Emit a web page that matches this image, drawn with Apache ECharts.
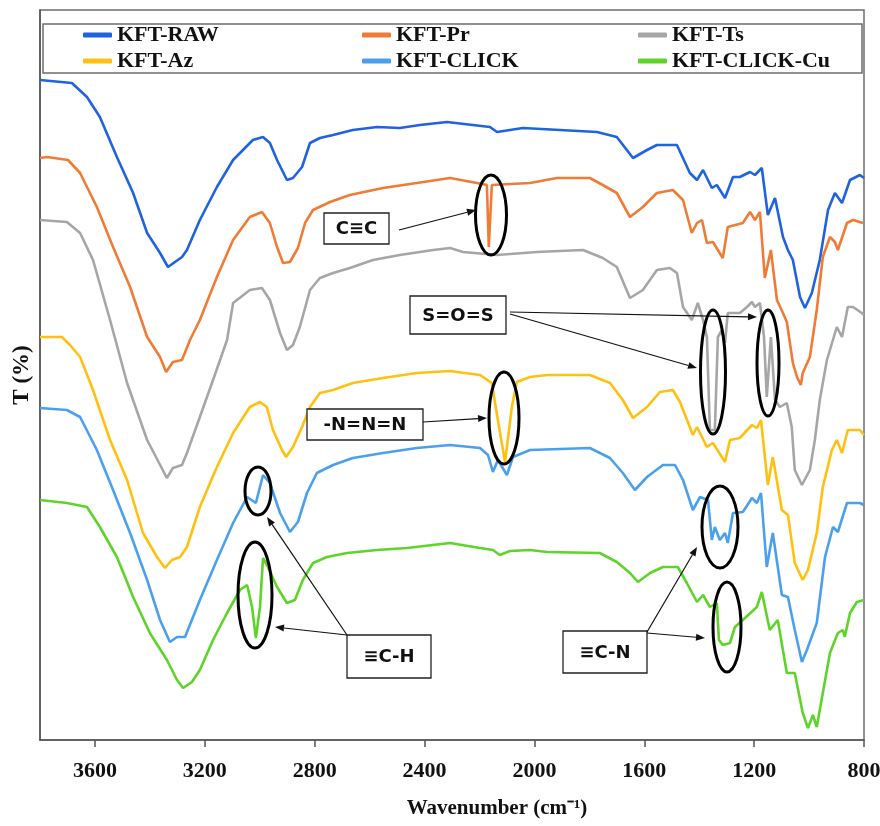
<!DOCTYPE html>
<html>
<head>
<meta charset="utf-8">
<script src="https://cdn.jsdelivr.net/npm/echarts@6/dist/echarts.min.js"></script>
<style>html,body{margin:0;padding:0;background:#fff}#c{width:880px;height:826px}</style>
</head>
<body>
<div id="c"></div>
<script>
// Series names and tick values
const seriesNames = ['KFT-RAW', 'KFT-Pr', 'KFT-Ts', 'KFT-Az', 'KFT-CLICK', 'KFT-CLICK-Cu'];
const xTicks = [800, 1200, 1600, 2000, 2400, 2800, 3200, 3600];

// Spectra: [wavenumber (cm-1), offset transmittance (arbitrary units)]
const rawData = [[3800,660],[3684,657],[3629,643],[3582,623],[3520,583],[3461,547],[3410,507],[3363,487],[3334,473],[3283,483],[3265,490],[3218,520],[3156,553],[3097,580],[3025,600],[2988,603],[2963,597],[2937,580],[2901,560],[2879,562],[2846,573],[2817,597],[2781,602],[2733,605],[2661,610],[2573,613],[2490,612],[2417,615],[2318,618],[2162,613],[2136,608],[2042,612],[1772,608],[1700,603],[1641,582],[1590,590],[1554,595],[1481,595],[1434,567],[1408,560],[1386,570],[1354,552],[1336,555],[1306,542],[1277,563],[1252,563],[1215,568],[1197,565],[1172,572],[1150,525],[1124,542],[1095,503],[1077,490],[1059,480],[1033,443],[1015,432],[990,447],[961,480],[931,530],[906,547],[880,537],[851,560],[815,565],[800,562]];

const prData = [[3800,582],[3775,583],[3698,580],[3654,567],[3593,533],[3534,493],[3472,453],[3410,403],[3363,383],[3341,368],[3316,378],[3283,380],[3254,400],[3218,420],[3156,463],[3097,500],[3036,523],[2992,528],[2963,517],[2937,493],[2915,477],[2890,478],[2861,492],[2835,517],[2806,530],[2744,538],[2672,545],[2551,552],[2428,557],[2307,562],[2209,557],[2173,555],[2166,493],[2155,555],[2016,557],[1918,562],[1798,562],[1751,555],[1700,547],[1652,523],[1605,533],[1554,547],[1496,550],[1459,540],[1427,507],[1408,517],[1390,520],[1372,497],[1350,498],[1314,482],[1296,513],[1241,517],[1215,528],[1197,520],[1179,528],[1161,462],[1139,490],[1117,440],[1095,427],[1081,418],[1059,377],[1044,363],[1030,355],[1023,367],[997,383],[972,430],[950,483],[924,503],[906,498],[895,490],[862,517],[840,520],[804,517]];

const tsData = [[3800,520],[3702,518],[3654,507],[3607,480],[3545,420],[3483,357],[3410,300],[3338,262],[3316,272],[3283,275],[3265,287],[3218,323],[3170,360],[3119,400],[3097,437],[3036,450],[2992,452],[2963,440],[2926,407],[2901,390],[2879,395],[2854,413],[2817,450],[2781,462],[2733,467],[2672,472],[2588,480],[2490,485],[2369,490],[2307,492],[2260,488],[2136,485],[1991,488],[1823,490],[1751,482],[1700,473],[1652,442],[1605,450],[1554,470],[1507,472],[1481,467],[1459,433],[1427,420],[1405,437],[1386,420],[1372,403],[1361,310],[1343,310],[1332,403],[1317,410],[1306,397],[1296,427],[1252,427],[1226,433],[1208,438],[1197,433],[1179,437],[1164,403],[1154,343],[1139,403],[1124,340],[1106,333],[1081,337],[1063,313],[1052,270],[1026,255],[997,270],[979,300],[961,340],[935,380],[899,413],[880,403],[859,433],[840,433],[808,427],[800,425]];

const azData = [[3800,403],[3720,403],[3691,395],[3654,383],[3607,350],[3545,300],[3483,260],[3425,207],[3374,183],[3345,172],[3320,180],[3290,183],[3265,193],[3218,233],[3156,273],[3097,307],[3036,333],[2999,338],[2974,333],[2952,310],[2919,290],[2904,283],[2879,293],[2846,313],[2817,333],[2781,347],[2733,350],[2661,357],[2551,362],[2428,367],[2307,369],[2198,365],[2155,357],[2133,320],[2107,278],[2082,333],[2064,358],[2016,363],[1954,365],[1798,365],[1725,357],[1678,340],[1641,322],[1590,333],[1543,348],[1496,350],[1470,338],[1423,305],[1408,313],[1372,293],[1350,297],[1306,278],[1288,300],[1252,302],[1208,315],[1190,312],[1175,320],[1150,255],[1132,283],[1099,230],[1077,225],[1052,177],[1023,160],[1004,170],[972,207],[950,253],[917,290],[899,300],[880,287],[859,310],[815,310],[800,305]];

const clickData = [[3800,332],[3702,330],[3654,323],[3593,290],[3534,250],[3472,207],[3410,160],[3363,120],[3327,98],[3301,103],[3272,103],[3218,140],[3156,180],[3097,217],[3046,243],[3014,237],[2988,265],[2963,257],[2926,227],[2890,208],[2861,218],[2828,247],[2792,267],[2733,275],[2661,282],[2551,287],[2428,292],[2307,295],[2198,292],[2169,285],[2151,268],[2133,280],[2100,265],[2078,283],[2016,290],[1798,292],[1725,282],[1678,267],[1634,250],[1590,263],[1532,275],[1488,275],[1459,260],[1423,230],[1397,243],[1368,240],[1354,200],[1343,213],[1325,200],[1306,207],[1296,197],[1277,227],[1241,228],[1208,242],[1190,237],[1175,247],[1154,173],[1132,207],[1099,145],[1077,143],[1052,110],[1026,78],[1008,90],[972,117],[942,183],[913,213],[895,208],[862,237],[815,237],[800,235]];

const cuData = [[3800,240],[3702,237],[3629,233],[3582,213],[3520,183],[3461,143],[3400,107],[3338,80],[3301,60],[3279,52],[3247,58],[3218,70],[3170,100],[3119,127],[3072,150],[3046,155],[3028,133],[3014,102],[2999,133],[2988,182],[2970,173],[2937,153],[2901,137],[2872,140],[2843,160],[2806,177],[2755,183],[2682,187],[2573,190],[2464,192],[2307,197],[2198,192],[2151,190],[2126,185],[2089,189],[2016,190],[1954,188],[1762,187],[1700,178],[1652,167],[1623,158],[1579,167],[1532,173],[1478,173],[1445,157],[1408,138],[1386,145],[1361,133],[1336,137],[1328,100],[1314,95],[1288,97],[1270,113],[1241,120],[1190,133],[1172,148],[1143,110],[1114,120],[1081,67],[1052,67],[1023,27],[1004,12],[986,25],[972,13],[950,47],[924,87],[895,107],[877,110],[870,103],[851,127],[826,138],[800,140]];

const seriesData = [rawData, prData, tsData, azData, clickData, cuData];
const colors = ['#1F63E0', '#F07B35', '#A6A6A6', '#FFC010', '#4BA0EE', '#5ED42A'];

const SERIF = '"Liberation Serif", "Times New Roman", serif';
const SANS = '"DejaVu Sans", "Open Sans", sans-serif';

const chart = echarts.init(document.getElementById('c'), null, {renderer: 'canvas'});

const legendPos = [[83, 24], [362, 24], [638, 24], [83, 50], [362, 50], [638, 50]];
const legends = seriesNames.map((n, i) => ({
  data: [n], left: legendPos[i][0], top: legendPos[i][1], padding: 0,
  icon: 'roundRect', itemWidth: 29, itemHeight: 5,
  textStyle: {fontFamily: SERIF, fontWeight: 'bold', fontSize: 22, lineHeight: 22, color: '#111'}
}));

function arrow(x1, y1, x2, y2) {
  const a = Math.atan2(y2 - y1, x2 - x1), L = 9, W = 3.5;
  const bx = x2 - L * Math.cos(a), by = y2 - L * Math.sin(a);
  const px = -Math.sin(a) * W, py = Math.cos(a) * W;
  return [
    {type: 'line', shape: {x1, y1, x2: bx, y2: by}, style: {stroke: '#111', lineWidth: 1.2}, z: 100},
    {type: 'polygon', shape: {points: [[x2, y2], [bx + px, by + py], [bx - px, by - py]]}, style: {fill: '#111'}, z: 100}
  ];
}
function ell(cx, cy, rx, ry) {
  return {type: 'ellipse', shape: {cx, cy, rx, ry}, style: {fill: 'none', stroke: '#000', lineWidth: 3}, z: 100};
}
function box(x, y, w, h, text) {
  return [
    {type: 'rect', shape: {x, y, width: w, height: h}, style: {fill: '#fff', stroke: '#222', lineWidth: 1.3}, z: 100},
    {type: 'text', style: {text, x: x + w / 2, y: y + h / 2 + 1, font: 'bold 18px ' + SANS, textAlign: 'center', textVerticalAlign: 'middle', fill: '#111'}, z: 101}
  ];
}

const graphics = [
  {type: 'rect', shape: {x: 43, y: 24, width: 819, height: 49}, style: {fill: 'none', stroke: '#6e6e6e', lineWidth: 1.5}, z: 90},
  ell(491, 215, 15.5, 40), ell(713, 372, 12.5, 62), ell(768, 363, 11, 53), ell(504, 418, 15, 46),
  ell(720, 527, 18, 41), ell(727, 627, 14, 45), ell(258, 491, 13, 24), ell(255, 595, 17, 53),
  ...box(324, 213, 65, 31, 'C≡C'),
  ...box(410, 296, 96, 38, 'S=O=S'),
  ...box(307, 409, 116, 31, '-N=N=N'),
  ...box(347, 635, 84, 43, '≡C-H'),
  ...box(563, 631, 84, 42, '≡C-N'),
  ...arrow(399, 230, 476, 210),
  ...arrow(510, 312, 757, 317),
  ...arrow(510, 314, 697, 368),
  ...arrow(423, 422, 487, 418),
  ...arrow(347, 635, 267, 517),
  ...arrow(347, 635, 275, 627),
  ...arrow(647, 632, 697, 547),
  ...arrow(647, 633, 705, 638)
];

chart.setOption({
  animation: false,
  backgroundColor: '#fff',
  color: colors,
  legend: legends,
  grid: {left: 40, right: 16, top: 10, bottom: 86, show: true, borderColor: '#6e6e6e', borderWidth: 1.5, containLabel: false, outerBoundsMode: 'none'},
  xAxis: {
    type: 'value', inverse: true, min: 800, max: 3800, interval: 400,
    name: 'Wavenumber (cm⁻¹)', nameLocation: 'middle', nameGap: 58,
    nameTextStyle: {fontFamily: SERIF, fontWeight: 'bold', fontSize: 21, color: '#111', padding: [0, 0, 0, 90]},
    axisLine: {show: true, lineStyle: {color: '#555', width: 1.5}},
    axisTick: {show: true, length: 7, lineStyle: {color: '#555', width: 1.5}, customValues: xTicks},
    axisLabel: {fontFamily: SERIF, fontWeight: 'bold', fontSize: 22, color: '#111', margin: 20, customValues: xTicks, formatter: v => String(v)},
    splitLine: {show: false}
  },
  yAxis: {
    type: 'value', min: 0, max: 730,
    name: 'T (%)', nameLocation: 'middle', nameGap: 6, nameRotate: 90,
    nameTextStyle: {fontFamily: SERIF, fontWeight: 'bold', fontSize: 23, color: '#111'},
    axisLine: {show: true, lineStyle: {color: '#555', width: 1.5}},
    axisTick: {show: false}, axisLabel: {show: false}, splitLine: {show: false}
  },
  series: seriesNames.map((n, i) => ({
    name: n, type: 'line', data: seriesData[i], showSymbol: false, symbol: 'none',
    lineStyle: {width: 2.6, color: colors[i]}, itemStyle: {color: colors[i]}, clip: true
  })),
  graphic: graphics
});
</script>
</body>
</html>
